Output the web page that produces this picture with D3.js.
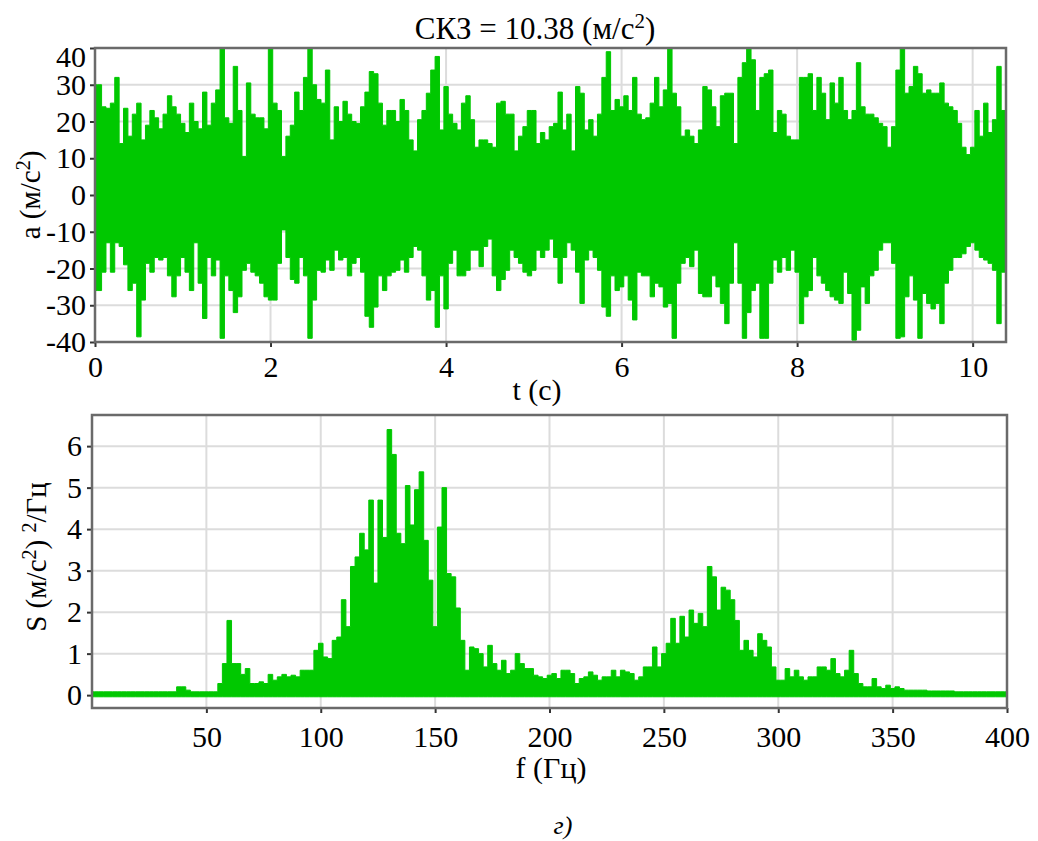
<!DOCTYPE html>
<html lang="ru">
<head>
<meta charset="UTF-8">
<title>СКЗ и спектр</title>
<script src="https://cdn.jsdelivr.net/npm/d3@7"></script>
<style>
  body { margin: 0; background: #fff; }
</style>
</head>
<body>
<div id="chart"></div>
<script>
// ---- data ----
// acceleration signal, upper / lower envelope every 0.05 s (м/с²)
const accStep = 0.05;
const accUpper = [
  30, 30, 24, 23.6, 25, 32, 14, 23.6, 16, 22,
  25, 15, 19, 23, 21, 18, 22, 27, 24, 22,
  19.5, 17, 25, 20, 18, 28, 19, 25, 28.6, 40,
  21, 19.5, 35, 23, 10.5, 30.5, 22, 21, 21, 18,
  40, 25, 23, 10.5, 16, 19, 28, 23, 32, 40,
  30, 26, 25, 34, 15, 24, 20, 25.5, 22, 20,
  19.5, 24, 28, 33.6, 33, 25, 19, 23, 23, 20,
  26, 23, 15, 12, 20.5, 23, 27.7, 34, 37.7, 17.7,
  29.5, 22, 19.5, 17.7, 25, 27, 20.5, 13, 15, 15,
  14, 13, 25, 25.5, 22, 22, 12, 16, 18.6, 23,
  23, 14, 17, 15, 18.6, 19.5, 28, 17.7, 22, 12,
  29.5, 27.7, 17.7, 20.5, 16, 22, 32, 39, 23, 26,
  24, 27, 23, 32, 22, 20.5, 21, 25, 32, 24,
  28.6, 40, 27.7, 24, 16, 17.7, 16, 14, 17.7, 29.5,
  28.6, 24, 18.6, 27, 27.7, 27.7, 14, 32, 36, 40,
  36.8, 23, 32, 33, 34, 17, 23, 22, 16, 15,
  15, 32, 32, 33, 23, 32, 27.7, 20.5, 30.5, 25,
  32, 23, 20.5, 23, 36, 24, 22, 22, 21, 19.5,
  18.6, 13, 18.6, 34, 40, 27.7, 29.5, 35, 33, 27.7,
  28.6, 27.7, 27.7, 30.5, 25, 24, 23, 19.5, 13, 11,
  13, 23, 16, 25, 17, 20.5, 35, 23, 20.5
];
const accLower = [
  -26, -26, -21, -13, -21, -13, -14, -19, -26, -24,
  -38.6, -28.6, -18.6, -21, -17, -17.7, -17, -22, -27.7, -22,
  -17, -21, -26, -13, -24, -33.6, -17, -22, -17.7, -39,
  -22, -26, -32, -27.7, -20.5, -18.6, -21, -22, -24, -27.7,
  -28.6, -28.6, -18.6, -9.5, -17, -23, -24, -17, -22, -39,
  -28.6, -20.5, -21, -17.7, -20.5, -15, -17.7, -17, -22, -18.6,
  -17, -21, -33, -36, -30.5, -22, -26, -22, -21, -20.5,
  -17.7, -21, -17, -14, -15, -22, -28.6, -26, -36, -22,
  -31, -18.6, -15, -22, -22, -20.5, -15, -15, -19.5, -14,
  -12, -22, -26, -23, -20.5, -15, -17, -18.6, -21, -22,
  -20.5, -15, -17, -15, -12, -17, -24, -17, -13, -15,
  -21, -29.5, -17.7, -15, -17, -20.5, -30.5, -33, -22, -26,
  -25, -22, -28.6, -34, -21, -22, -22, -27.7, -24, -25,
  -30.5, -29.5, -39, -24, -18.6, -17, -19.5, -15, -26.8, -27.7,
  -27.7, -22, -25, -29.5, -35, -24, -13, -24, -39, -32,
  -26, -24, -39, -39, -24, -17.7, -21, -17, -20.5, -15,
  -21, -35, -27.7, -26, -17, -22, -24, -26, -27.7, -28.6,
  -29.5, -21, -26.8, -39.5, -36.8, -25, -29.5, -22, -20.5, -15,
  -13, -13, -18.6, -39, -38.6, -27.7, -22, -28.6, -39, -26.8,
  -29.5, -31, -29.5, -35, -24, -20.5, -17, -17, -16, -14,
  -13, -15, -17, -17.7, -18.6, -20.5, -35, -21, -20.5
];
const timeTicks = [0, 2, 4, 6, 8, 10];
const accTicks = [-40, -30, -20, -10, 0, 10, 20, 30, 40];

// spectrum, upper envelope every 2 Hz from 0 to 400 Гц
const specStep = 2;
const specUpper = [
  0.08, 0.08, 0.08, 0.08, 0.08, 0.08, 0.08, 0.08, 0.08, 0.08,
  0.08, 0.08, 0.08, 0.08, 0.08, 0.08, 0.08, 0.08, 0.08, 0.2,
  0.2, 0.12, 0.08, 0.08, 0.08, 0.08, 0.08, 0.08, 0.28, 0.76,
  1.8, 0.76, 0.76, 0.5, 0.64, 0.28, 0.28, 0.32, 0.28, 0.5,
  0.36, 0.44, 0.5, 0.44, 0.48, 0.44, 0.6, 0.6, 0.6, 1.08,
  1.25, 0.92, 0.88, 1.32, 1.4, 2.3, 1.65, 3.1, 3.33, 3.9,
  3.5, 4.7, 2.7, 4.7, 3.8, 6.4, 5.8, 3.9, 3.65, 5.05,
  4.1, 4.95, 5.38, 3.73, 2.77, 1.65, 4.05, 5.0, 2.93, 2.85,
  2.1, 1.32, 0.6, 1.16, 1.12, 1.0, 0.68, 1.2, 0.76, 0.6,
  0.84, 0.52, 0.6, 1.0, 0.76, 0.64, 0.64, 0.48, 0.44, 0.4,
  0.48, 0.52, 0.4, 0.6, 0.6, 0.52, 0.28, 0.4, 0.44, 0.56,
  0.48, 0.36, 0.44, 0.44, 0.6, 0.44, 0.6, 0.56, 0.52, 0.36,
  0.44, 0.68, 0.68, 1.16, 0.68, 1.0, 1.25, 1.85, 1.25, 1.9,
  1.4, 2.05, 1.73, 1.97, 1.65, 3.1, 2.85, 2.05, 2.6, 2.53,
  2.3, 1.8, 1.08, 1.32, 1.08, 0.92, 1.48, 1.32, 1.16, 0.68,
  0.36, 0.36, 0.64, 0.44, 0.6, 0.44, 0.36, 0.44, 0.44, 0.68,
  0.68, 0.6, 0.88, 0.52, 0.44, 0.6, 1.08, 0.52, 0.28, 0.2,
  0.2, 0.4, 0.2, 0.16, 0.24, 0.16, 0.2, 0.16, 0.12, 0.12,
  0.12, 0.12, 0.12, 0.1, 0.1, 0.1, 0.1, 0.1, 0.1, 0.08,
  0.08, 0.08, 0.08, 0.08, 0.08, 0.08, 0.08, 0.08, 0.08, 0.08,
  0.08
];
const specFloor = -0.04;
const freqTicks = [50, 100, 150, 200, 250, 300, 350, 400];
const specTicks = [0, 1, 2, 3, 4, 5, 6];

const green = "#00c800";
const serif = "Liberation Serif, Times New Roman, serif";
const tickFont = 30;
const plain = d => String(d); // hyphen minus, like the original

const svg = d3.select("#chart").append("svg")
  .attr("width", 1038)
  .attr("height", 841)
  .attr("font-family", serif);

// ---- top: acceleration vs time ----
const box1 = {left: 95, right: 1006, top: 48, bottom: 342};
const x1 = d3.scaleLinear().domain([0, 10.38]).range([box1.left, box1.right]);
const y1 = d3.scaleLinear().domain([-40, 40]).range([box1.bottom, box1.top]);

const g1 = svg.append("g");
g1.append("clipPath").attr("id", "clip1").append("rect")
  .attr("x", box1.left).attr("y", box1.top)
  .attr("width", box1.right - box1.left).attr("height", box1.bottom - box1.top);

// grid
g1.selectAll(".vg").data(timeTicks.filter(d => d > 0)).join("line")
  .attr("x1", d => x1(d)).attr("x2", d => x1(d))
  .attr("y1", box1.top).attr("y2", box1.bottom)
  .attr("stroke", "#dcdcdc").attr("stroke-width", 2);
g1.selectAll(".hg").data(accTicks.filter(d => Math.abs(d) < 40)).join("line")
  .attr("x1", box1.left).attr("x2", box1.right)
  .attr("y1", d => y1(d)).attr("y2", d => y1(d))
  .attr("stroke", "#dcdcdc").attr("stroke-width", 2);

const accData = accUpper.map((u, i) => ({t: i * accStep, hi: u, lo: accLower[i]}));
g1.append("path")
  .datum(accData)
  .attr("clip-path", "url(#clip1)")
  .attr("fill", green)
  .attr("stroke", green)
  .attr("stroke-width", 1)
  .attr("d", d3.area()
    .x(d => x1(d.t))
    .y0(d => y1(d.lo))
    .y1(d => y1(d.hi))
    .curve(d3.curveStep));

// axes
const ax1 = g1.append("g")
  .attr("transform", `translate(0,${box1.bottom})`)
  .call(d3.axisBottom(x1).tickValues(timeTicks).tickFormat(plain).tickSize(5).tickPadding(9));
const ay1 = g1.append("g")
  .attr("transform", `translate(${box1.left},0)`)
  .call(d3.axisLeft(y1).tickValues(accTicks).tickFormat(plain).tickSize(5).tickPadding(4));
[ax1, ay1].forEach(a => {
  a.attr("font-family", serif).attr("font-size", tickFont);
  a.select(".domain").remove();
  a.selectAll("line").attr("stroke", "#333").attr("stroke-width", 2);
  a.selectAll("text").attr("font-family", serif).attr("font-size", tickFont);
});
// the top label sits inside the frame
ay1.selectAll(".tick").filter(d => d === 40).select("text").attr("dy", "0.62em");

g1.append("rect")
  .attr("x", box1.left).attr("y", box1.top)
  .attr("width", box1.right - box1.left).attr("height", box1.bottom - box1.top)
  .attr("fill", "none").attr("stroke", "#6a6a6a").attr("stroke-width", 2.5);

// title and labels
const title = svg.append("text")
  .attr("x", 535).attr("y", 39)
  .attr("text-anchor", "middle")
  .attr("font-family", serif)
  .attr("font-size", 31);
title.append("tspan").text("СКЗ = 10.38 (м/с");
title.append("tspan").attr("dy", -11).attr("font-size", 21).text("2");
title.append("tspan").attr("dy", 11).text(")");

svg.append("text")
  .attr("x", 537).attr("y", 400)
  .attr("text-anchor", "middle")
  .attr("font-family", serif)
  .attr("font-size", 30)
  .text("t (с)");

const ylab1 = svg.append("text")
  .attr("transform", "translate(40,195) rotate(-90)")
  .attr("text-anchor", "middle")
  .attr("font-family", serif)
  .attr("font-size", 29);
ylab1.append("tspan").text("a (м/с");
ylab1.append("tspan").attr("dy", -10).attr("font-size", 20).text("2");
ylab1.append("tspan").attr("dy", 10).text(")");

// ---- bottom: spectrum ----
const box2 = {left: 92, right: 1007, top: 415, bottom: 708};
const x2 = d3.scaleLinear().domain([0, 400]).range([box2.left, box2.right]);
const y2 = d3.scaleLinear().domain([-0.31, 6.75]).range([box2.bottom, box2.top]);

const g2 = svg.append("g");
g2.append("clipPath").attr("id", "clip2").append("rect")
  .attr("x", box2.left).attr("y", box2.top)
  .attr("width", box2.right - box2.left).attr("height", box2.bottom - box2.top);

g2.selectAll(".vg").data(freqTicks.filter(d => d < 400)).join("line")
  .attr("x1", d => x2(d)).attr("x2", d => x2(d))
  .attr("y1", box2.top).attr("y2", box2.bottom)
  .attr("stroke", "#dcdcdc").attr("stroke-width", 2);
g2.selectAll(".hg").data(specTicks).join("line")
  .attr("x1", box2.left).attr("x2", box2.right)
  .attr("y1", d => y2(d)).attr("y2", d => y2(d))
  .attr("stroke", "#dcdcdc").attr("stroke-width", 2);

const specData = specUpper.map((s, i) => ({f: i * specStep, s: s}));
g2.append("path")
  .datum(specData)
  .attr("clip-path", "url(#clip2)")
  .attr("fill", green)
  .attr("stroke", green)
  .attr("stroke-width", 1)
  .attr("d", d3.area()
    .x(d => x2(d.f))
    .y0(y2(specFloor))
    .y1(d => y2(d.s))
    .curve(d3.curveStep));

const ax2 = g2.append("g")
  .attr("transform", `translate(0,${box2.bottom})`)
  .call(d3.axisBottom(x2).tickValues(freqTicks).tickFormat(plain).tickSize(5).tickPadding(13));
const ay2 = g2.append("g")
  .attr("transform", `translate(${box2.left},0)`)
  .call(d3.axisLeft(y2).tickValues(specTicks).tickFormat(plain).tickSize(5).tickPadding(5));
[ax2, ay2].forEach(a => {
  a.attr("font-family", serif).attr("font-size", tickFont);
  a.select(".domain").remove();
  a.selectAll("line").attr("stroke", "#333").attr("stroke-width", 2);
  a.selectAll("text").attr("font-family", serif).attr("font-size", tickFont);
});

g2.append("rect")
  .attr("x", box2.left).attr("y", box2.top)
  .attr("width", box2.right - box2.left).attr("height", box2.bottom - box2.top)
  .attr("fill", "none").attr("stroke", "#6a6a6a").attr("stroke-width", 2.5);

svg.append("text")
  .attr("x", 551).attr("y", 778)
  .attr("text-anchor", "middle")
  .attr("font-family", serif)
  .attr("font-size", 30)
  .text("f (Гц)");

const ylab2 = svg.append("text")
  .attr("transform", "translate(46,557) rotate(-90)")
  .attr("text-anchor", "middle")
  .attr("font-family", serif)
  .attr("font-size", 29);
ylab2.append("tspan").text("S (м/с");
ylab2.append("tspan").attr("dy", -10).attr("font-size", 20).text("2");
ylab2.append("tspan").attr("dy", 10).text(") ");
ylab2.append("tspan").attr("dy", -10).attr("font-size", 20).text("2");
ylab2.append("tspan").attr("dy", 10).text("/Гц");

// caption
svg.append("text")
  .attr("x", 563).attr("y", 834)
  .attr("text-anchor", "middle")
  .attr("font-family", serif)
  .attr("font-size", 26)
  .attr("font-style", "italic")
  .text("г)");
</script>
</body>
</html>
